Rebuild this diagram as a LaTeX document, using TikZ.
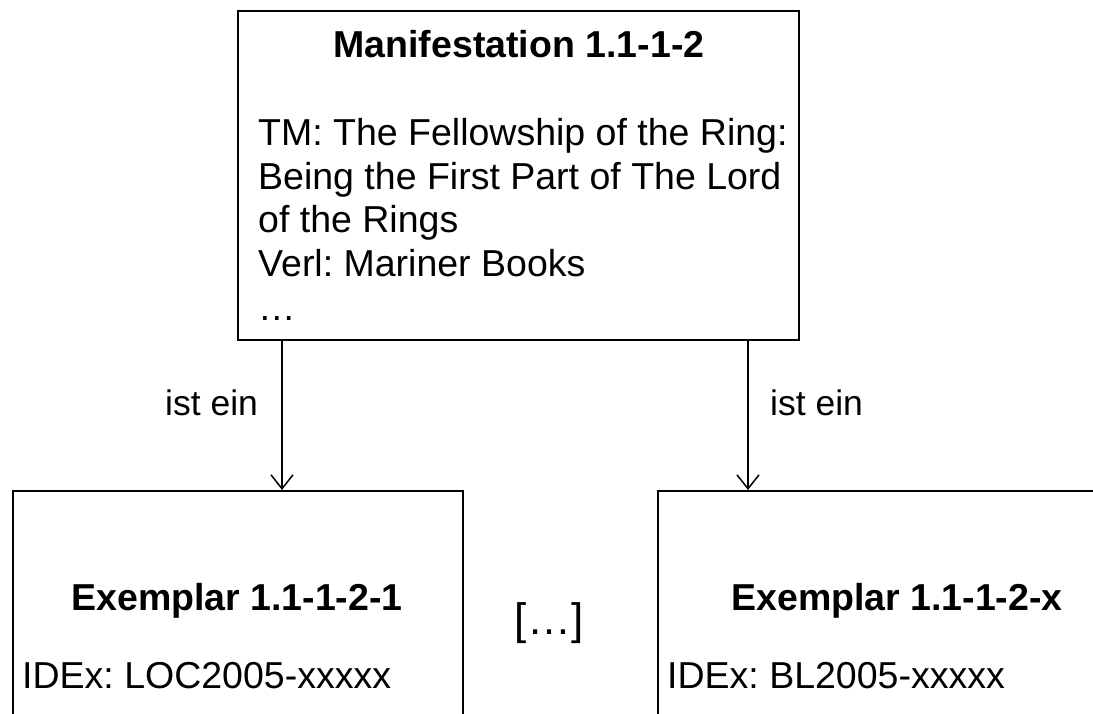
\documentclass[tikz,border=0pt]{standalone}
\usepackage{fontspec}
\setmainfont{Liberation Sans}
\usetikzlibrary{arrows.meta}
\begin{document}
\frenchspacing
\begin{tikzpicture}[x=1pt,y=-1pt,
  box/.style={draw=black,line width=2pt,inner sep=0pt},
  txt/.style={anchor=base west,inner sep=0pt,font=\fontsize{37.5}{44}\selectfont},
  ttl/.style={anchor=base,inner sep=0pt,font=\fontsize{37.5}{44}\selectfont\bfseries},
  lbl/.style={anchor=base west,inner sep=0pt,font=\fontsize{35.5}{42}\selectfont},
  arr/.style={draw=black,line width=1.5pt,-{Straight Barb[length=14pt,width=22pt,line width=1.5pt]}}]
\useasboundingbox (0,0) rectangle (1093,713);
\clip (0,0) rectangle (1093,713);
% boxes
\node[box,minimum width=561pt,minimum height=329pt,anchor=north west] (top) at (237,10) {};
\node[box,minimum width=450pt,minimum height=280pt,anchor=north west] (bl) at (12,490) {};
\node[box,minimum width=480pt,minimum height=280pt,anchor=north west] (br) at (657,490) {};
% top texts
\node[ttl] (t0) at (519,57) {Manifestation 1.1-1-2};
\node[txt] (t1) at (258,145) {TM: The Fellowship of the Ring:};
\node[txt] (t2) at (258,189) {Being the First Part of The Lord};
\node[txt] (t3) at (258,232) {of the Rings};
\node[txt] (t4) at (258,276) {Verl: Mariner Books};
\node[txt] (t5) at (258,320) {…};
% bottom texts
\node[ttl] (b0) at (237,610) {Exemplar 1.1-1-2-1};
\node[txt] (b1) at (22,688) {IDEx: LOC2005-xxxxx};
\node[anchor=base,inner sep=0pt,font=\fontsize{44}{50}\selectfont] (dots) at (549,634) {[…]};
\node[ttl] (c0) at (897,610) {Exemplar 1.1-1-2-x};
\node[txt] (c1) at (667,688) {IDEx: BL2005-xxxxx};
% connectors
\coordinate (a1) at (282,0);
\coordinate (a2) at (748,0);
\draw[arr] (top.south -| a1) -- (bl.north -| a1);
\draw[arr] (top.south -| a2) -- (br.north -| a2);
\node[lbl] (l1) at (165,415) {ist ein};
\node[lbl] (l2) at (770,415) {ist ein};
\end{tikzpicture}
\end{document}
